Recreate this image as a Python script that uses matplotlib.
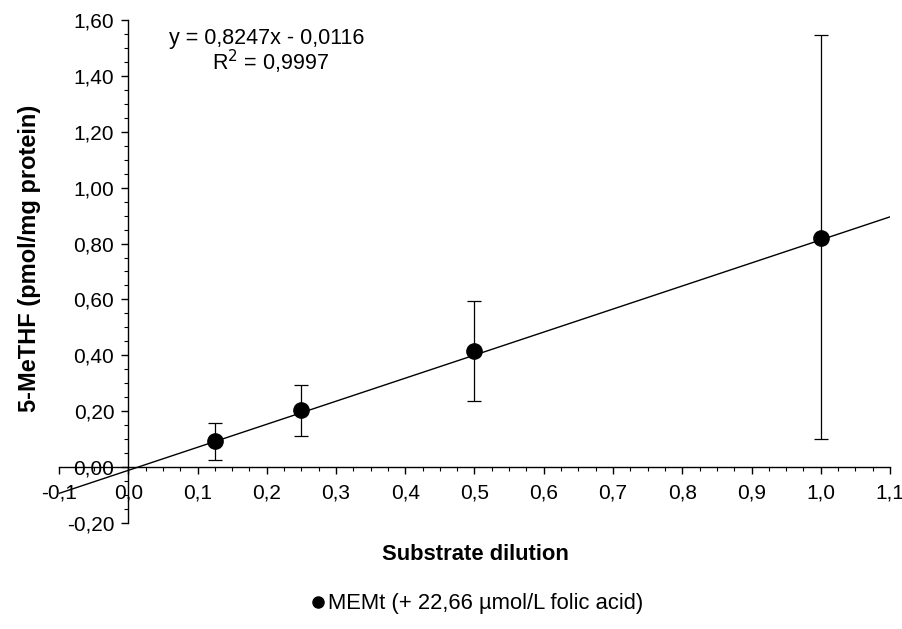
import matplotlib
matplotlib.use("Agg")
import matplotlib.pyplot as plt
from matplotlib.ticker import MultipleLocator, FuncFormatter
from matplotlib.lines import Line2D
import numpy as np

plt.rcParams["font.family"] = ["Liberation Sans", "DejaVu Sans"]

# measured points (substrate dilution vs 5-MeTHF)
dilution = [0.125, 0.25, 0.5, 1.0]
methf = [0.095, 0.204, 0.416, 0.82]
err_low = [0.068, 0.092, 0.18, 0.72]
err_high = [0.063, 0.089, 0.178, 0.725]

# linear trendline
slope = 0.8247
intercept = -0.0116
r2 = 0.9997

series_name = "MEMt (+ 22,66 µmol/L folic acid)"

W, H = 903, 629
fig = plt.figure(figsize=(W / 100, H / 100), dpi=100)
ax = fig.add_axes([59 / W, 1 - 523 / H, (890 - 59) / W, (523 - 20) / H])

xs = np.array([-0.1, 1.1])
ax.plot(xs, slope * xs + intercept, color="black", lw=1.0, zorder=2)

ax.errorbar(dilution, methf, yerr=[err_low, err_high], fmt="o", color="black",
            ms=11, elinewidth=0.9, capsize=5, capthick=0.9, zorder=3)

ax.set_xlim(-0.1, 1.1)
ax.set_ylim(-0.2, 1.6)

for s in ["top", "right"]:
    ax.spines[s].set_visible(False)
ax.spines["left"].set_position(("data", 0))
ax.spines["bottom"].set_position(("data", 0))
ax.spines["left"].set_linewidth(1.0)
ax.spines["bottom"].set_linewidth(1.0)

ax.xaxis.set_major_locator(MultipleLocator(0.1))
ax.xaxis.set_minor_locator(MultipleLocator(0.025))
ax.yaxis.set_major_locator(MultipleLocator(0.2))
ax.yaxis.set_minor_locator(MultipleLocator(0.05))

ax.xaxis.set_major_formatter(FuncFormatter(lambda v, p: f"{v:.1f}".replace(".", ",")))
ax.yaxis.set_major_formatter(FuncFormatter(lambda v, p: f"{v:.2f}".replace(".", ",")))

ax.tick_params(axis="x", which="major", direction="out", length=5, width=1, pad=7, labelsize=15)
ax.tick_params(axis="x", which="minor", direction="out", length=3, width=0.8)
ax.tick_params(axis="y", which="major", direction="out", length=5, width=1, pad=5, labelsize=15)
ax.tick_params(axis="y", which="minor", direction="out", length=3, width=0.8)

ax.text(0.2, 1.535, "y = 0,8247x - 0,0116", fontsize=15.5, ha="center", va="center")
ax.text(0.205, 1.45, "R$^2$ = 0,9997", fontsize=15.5, ha="center", va="center")

fig.text(30 / W, 1 - 258 / H, "5-MeTHF (pmol/mg protein)", rotation=90,
         fontsize=17, fontweight="bold", ha="center", va="center")
fig.text(475 / W, 1 - 555 / H, "Substrate dilution", fontsize=15.8,
         fontweight="bold", ha="center", va="center")

handle = Line2D([], [], ls="none", marker="o", color="black", ms=8)
fig.legend([handle], [series_name], loc="center", bbox_to_anchor=(478 / W, 1 - 604 / H),
           frameon=False, fontsize=15.8, handlelength=0.5, handletextpad=0.2)

fig.savefig("out.png", dpi=100)
